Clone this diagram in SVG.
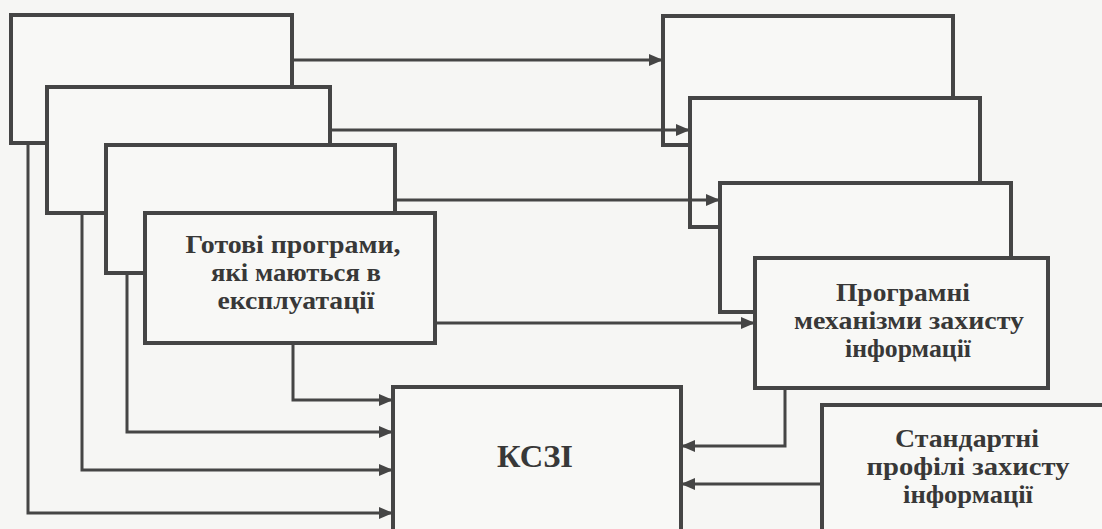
<svg xmlns="http://www.w3.org/2000/svg" width="1102" height="529" viewBox="0 0 1102 529">
  <defs>
    <style>
      .bg { fill: #f6f6f4; }
      .box { fill: #f8f8f6; stroke: #454545; stroke-width: 4; }
      .conn { fill: none; stroke: #454545; stroke-width: 3; }
      .lbl { font-family: 'Liberation Serif', 'Times New Roman', serif; font-weight: bold; font-size: 25px; fill: #383838; text-anchor: middle; }
      .big { font-size: 31px; }
    </style>
    <marker id="arr" markerWidth="14" markerHeight="12" refX="14" refY="6" orient="auto" markerUnits="userSpaceOnUse">
      <path d="M0,0 L14,6 L0,12 Z" fill="#454545"/>
    </marker>
  </defs>
  <rect class="bg" x="0" y="0" width="1102" height="529"/>

  <!-- left stack -->
  <g id="left1"><rect class="box" x="11" y="15" width="281" height="128"/></g>
  <g id="left2"><rect class="box" x="47" y="87" width="283" height="126"/></g>
  <g id="left3"><rect class="box" x="106" y="145" width="289" height="128"/></g>
  <g id="left4">
    <rect class="box" x="145" y="213" width="290" height="130"/>
    <text class="lbl" x="293" y="253" textLength="215" lengthAdjust="spacingAndGlyphs">Готові програми,</text>
    <text class="lbl" x="296" y="281" textLength="170" lengthAdjust="spacingAndGlyphs">які маються в</text>
    <text class="lbl" x="296" y="309" textLength="157" lengthAdjust="spacingAndGlyphs">експлуатації</text>
  </g>

  <!-- right stack -->
  <g id="right1"><rect class="box" x="663" y="16" width="290" height="129"/></g>
  <g id="right2"><rect class="box" x="690" y="98" width="290" height="129"/></g>
  <g id="right3"><rect class="box" x="720" y="183" width="291" height="129"/></g>
  <g id="right4">
    <rect class="box" x="755" y="258" width="293" height="130"/>
    <text class="lbl" x="903" y="301" textLength="134" lengthAdjust="spacingAndGlyphs">Програмні</text>
    <text class="lbl" x="909" y="329" textLength="230" lengthAdjust="spacingAndGlyphs">механізми захисту</text>
    <text class="lbl" x="908" y="357" textLength="126" lengthAdjust="spacingAndGlyphs">інформації</text>
  </g>
  <g id="right5">
    <rect class="box" x="822" y="405" width="284" height="130"/>
    <text class="lbl" x="967" y="447" textLength="144" lengthAdjust="spacingAndGlyphs">Стандартні</text>
    <text class="lbl" x="968" y="475" textLength="203" lengthAdjust="spacingAndGlyphs">профілі захисту</text>
    <text class="lbl" x="968" y="503" textLength="130" lengthAdjust="spacingAndGlyphs">інформації</text>
  </g>

  <!-- KSZI -->
  <g id="kszi">
    <rect class="box" x="393" y="387" width="288" height="148"/>
    <text class="lbl big" x="535" y="467" textLength="76" lengthAdjust="spacingAndGlyphs">КСЗІ</text>
  </g>

  <!-- connectors -->
  <g id="connectors">
    <path class="conn" d="M292,60 H663" marker-end="url(#arr)"/>
    <path class="conn" d="M330,130 H690" marker-end="url(#arr)"/>
    <path class="conn" d="M395,200 H720" marker-end="url(#arr)"/>
    <path class="conn" d="M435,323 H755" marker-end="url(#arr)"/>

    <path class="conn" d="M293,343 V400 H393" marker-end="url(#arr)"/>
    <path class="conn" d="M127,273 V432 H393" marker-end="url(#arr)"/>
    <path class="conn" d="M82,213 V470 H393" marker-end="url(#arr)"/>
    <path class="conn" d="M28,143 V513 H393" marker-end="url(#arr)"/>

    <path class="conn" d="M785,388 V446 H681" marker-end="url(#arr)"/>
    <path class="conn" d="M822,484 H681" marker-end="url(#arr)"/>
  </g>
</svg>
